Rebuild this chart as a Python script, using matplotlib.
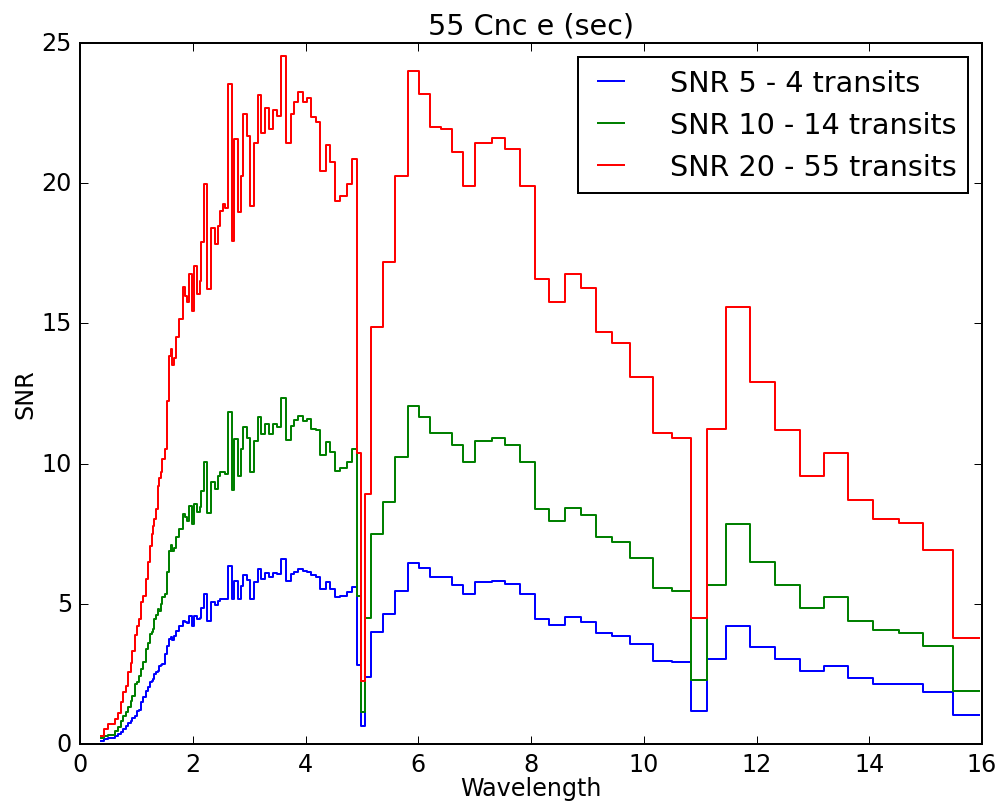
import numpy as np
import matplotlib
matplotlib.use("Agg")
import matplotlib.pyplot as plt

plt.style.use("classic")

# bin edges in wavelength (microns)
edges = [0.38, 0.42, 0.50, 0.62, 0.68, 0.73, 0.77, 0.81, 0.85, 0.90,
         0.93, 0.97, 1.01, 1.05, 1.08, 1.12, 1.17, 1.21, 1.25, 1.27,
         1.29, 1.32, 1.35, 1.38, 1.41, 1.43, 1.46, 1.50, 1.54, 1.57,
         1.61, 1.64, 1.67, 1.70, 1.76, 1.82, 1.86, 1.90, 1.94, 1.98,
         2.02, 2.07, 2.12, 2.15, 2.20, 2.26, 2.32, 2.39, 2.45, 2.49,
         2.53, 2.58, 2.63, 2.69, 2.74, 2.80, 2.85, 2.90, 2.96, 3.02,
         3.08, 3.15, 3.21, 3.28, 3.35, 3.43, 3.50, 3.57, 3.66, 3.74,
         3.80, 3.86, 3.95, 4.03, 4.10, 4.19, 4.26, 4.37, 4.44, 4.52,
         4.62, 4.73, 4.82, 4.92, 4.98, 5.055, 5.17, 5.38, 5.59, 5.81,
         6.01, 6.21, 6.40, 6.60, 6.80, 7.00, 7.30, 7.54, 7.80, 8.07,
         8.32, 8.60, 8.88, 9.16, 9.44, 9.76, 10.16, 10.50, 10.83, 11.12,
         11.46, 11.88, 12.33, 12.77, 13.19, 13.63, 14.07, 14.52, 14.96, 15.49,
         15.95]

snr5 = [0.1, 0.18, 0.21, 0.3, 0.36, 0.42, 0.53, 0.65, 0.75, 0.83,
        0.92, 1.0, 1.19, 1.22, 1.49, 1.66, 1.9, 2.05, 2.2, 2.25,
        2.32, 2.5, 2.55, 2.61, 2.79, 2.82, 2.85, 3.21, 3.5, 3.74,
        3.8, 3.72, 3.86, 4.04, 4.22, 4.4, 4.34, 4.3, 4.55, 4.22,
        4.58, 4.45, 4.5, 4.84, 5.35, 4.4, 5.05, 4.95, 5.11, 5.17,
        5.17, 5.17, 6.36, 5.17, 5.82, 5.17, 5.65, 6.03, 5.85, 5.17,
        5.77, 6.24, 5.9, 6.1, 5.94, 6.1, 6.05, 6.6, 5.82, 6.08,
        6.14, 6.24, 6.16, 6.14, 6.03, 5.97, 5.53, 5.77, 5.53, 5.23,
        5.29, 5.41, 5.59, 2.82, 0.63, 2.38, 4.0, 4.64, 5.47, 6.44,
        6.26, 5.94, 5.94, 5.67, 5.35, 5.77, 5.82, 5.71, 5.35, 4.46,
        4.26, 4.54, 4.36, 3.96, 3.84, 3.55, 2.95, 2.91, 1.19, 3.03,
        4.2, 3.47, 3.03, 2.59, 2.79, 2.35, 2.13, 2.13, 1.87, 1.03]

snr10 = [0.2, 0.3, 0.33, 0.47, 0.6, 0.83, 1.0, 1.15, 1.31, 1.55,
         1.72, 2.14, 2.2, 2.44, 2.67, 2.91, 3.39, 3.6, 3.92, 4.0,
         4.1, 4.46, 4.6, 4.81, 4.75, 5.0, 5.23, 5.35, 6.12, 6.9,
         7.1, 6.88, 7.0, 7.4, 7.65, 8.2, 8.08, 7.96, 8.5, 7.85,
         8.56, 8.26, 8.44, 9.03, 10.05, 8.24, 9.33, 9.09, 9.57, 9.69,
         9.69, 9.63, 11.83, 9.06, 10.88, 9.57, 10.52, 11.29, 10.93, 9.69,
         10.82, 11.65, 11.06, 11.41, 11.06, 11.41, 11.29, 12.33, 10.84, 11.35,
         11.55, 11.71, 11.53, 11.59, 11.23, 11.2, 10.31, 10.78, 10.4, 9.75,
         9.86, 10.07, 10.52, 5.29, 1.13, 4.5, 7.49, 8.64, 10.22, 12.07,
         11.67, 11.09, 11.09, 10.68, 10.05, 10.82, 10.93, 10.66, 10.05, 8.38,
         7.96, 8.42, 8.17, 7.39, 7.19, 6.62, 5.56, 5.47, 2.28, 5.68,
         7.85, 6.5, 5.68, 4.84, 5.25, 4.38, 4.07, 3.95, 3.48, 1.9]

snr20 = [0.3, 0.55, 0.71, 0.89, 1.1, 1.5, 1.85, 2.07, 2.57, 2.9,
         3.3, 3.9, 4.2, 4.46, 5.06, 5.28, 5.88, 6.49, 7.06, 7.5,
         7.78, 8.02, 8.38, 9.2, 9.5, 9.7, 10.16, 10.52, 12.24, 13.85,
         14.09, 13.5, 13.75, 14.5, 15.16, 16.3, 15.99, 15.76, 16.76, 15.45,
         17.06, 16.05, 16.52, 17.89, 19.97, 16.23, 18.42, 17.83, 18.48, 19.02,
         19.26, 19.1, 23.54, 17.95, 21.57, 18.97, 20.27, 22.47, 21.7, 19.2,
         21.45, 23.14, 21.79, 22.67, 21.95, 22.6, 22.41, 24.55, 21.45, 22.47,
         22.88, 23.27, 22.88, 23.03, 22.35, 22.19, 20.44, 21.36, 20.74, 19.35,
         19.55, 19.97, 20.88, 10.37, 2.26, 8.92, 14.86, 17.2, 20.27, 24.01,
         23.18, 22.02, 21.93, 21.1, 19.91, 21.45, 21.61, 21.22, 19.91, 16.58,
         15.78, 16.76, 16.26, 14.68, 14.29, 13.08, 11.09, 10.9, 4.48, 11.23,
         15.57, 12.92, 11.2, 9.57, 10.38, 8.7, 8.02, 7.87, 6.92, 3.79]

labels = ["SNR 5 - 4 transits", "SNR 10 - 14 transits", "SNR 20 - 55 transits"]
colors = ["b", "g", "r"]

dpi = 143
fig = plt.figure(figsize=(998 / dpi, 803 / dpi), dpi=dpi)
ax = fig.add_axes([80 / 998, 58 / 803, 902 / 998, 701 / 803])

for vals, lab, col in zip([snr5, snr10, snr20], labels, colors):
    y = np.append(vals, vals[-1])  # repeat last so the final bin is drawn
    ax.step(edges, y, where="post", color=col, label=lab)

ax.set_xlim(0, 16)
ax.set_ylim(0, 25)
ax.set_xlabel("Wavelength", labelpad=0)
ax.set_ylabel("SNR", labelpad=2)
ax.set_title("55 Cnc e (sec)")
ax.legend(loc="upper right", handlelength=1.5, handletextpad=1.3)

fig.savefig("out.png", dpi=dpi, facecolor="white")
